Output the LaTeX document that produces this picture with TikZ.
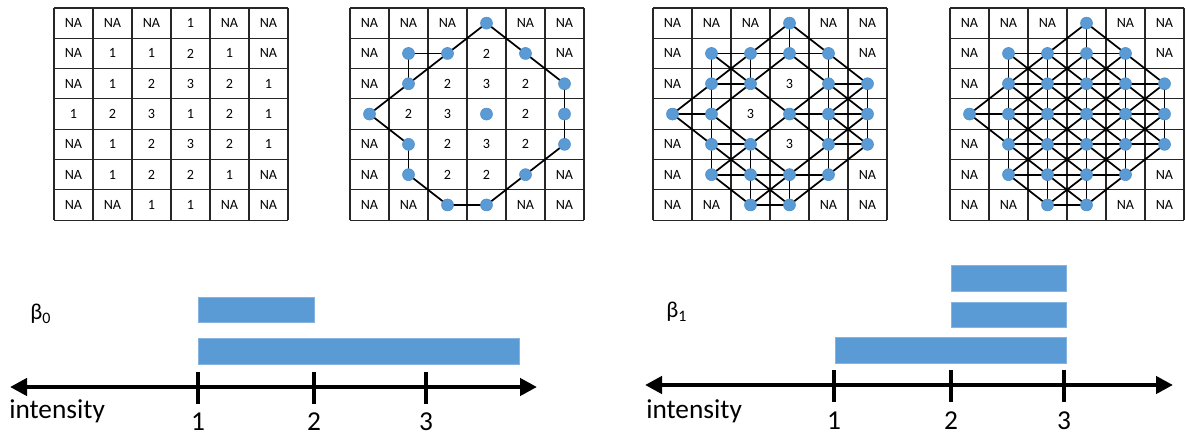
\documentclass[tikz,border=0pt]{standalone}
\usepackage{fontspec}
\setmainfont{Carlito}
\usetikzlibrary{arrows.meta}
\pgfdeclarelayer{gridlayer}
\pgfdeclarelayer{edgelayer}
\pgfsetlayers{gridlayer,edgelayer,main}

\definecolor{officeblue}{HTML}{5B9BD5}
\definecolor{dotrim}{HTML}{4F8CC6}

% pixel values of the 7x6 image, row by row (9 = NA)
\def\cellvals{{9,9,9,1,9,9, 9,1,1,2,1,9, 9,1,2,3,2,1, 1,2,3,1,2,1, 9,1,2,3,2,1, 9,1,2,2,1,9, 9,9,1,1,9,9}}

\tikzset{
  gridline/.style={draw=black!85, line width=0.9pt},
  celltext/.style={inner sep=0pt, font=\fontsize{10.6}{11}\selectfont},
  pixdot/.style={circle, minimum size=9pt, inner sep=0pt, fill=officeblue, draw=dotrim, line width=0.4pt},
  edge/.style={draw=black, line width=1.3pt},
  bar/.style={fill=officeblue, draw=officeblue!75!white, line width=0.5pt},
  axis/.style={draw=black, line width=3.4pt, {Triangle[length=12.75pt,width=12.75pt]}-{Triangle[length=12.75pt,width=12.75pt]}},
  tick/.style={draw=black, line width=3pt},
  axislabel/.style={inner sep=0pt, anchor=base, font=\fontsize{20.5}{22}\selectfont},
  bigtext/.style={inner sep=0pt, anchor=base west, font=\fontsize{20.5}{22}\selectfont},
  betatext/.style={inner sep=0pt, anchor=base west, font=\fontsize{17}{18}\selectfont}
}

\begin{document}
\begin{tikzpicture}[x=0.75pt, y=-0.75pt]
\useasboundingbox (0,0) rectangle (1185,435);

% four copies of the image: sublevel sets at thresholds 0, 1, 2, 3
\foreach \gi/\L/\thr in {1/54/0, 2/350/1, 3/653/2, 4/950/3} {
  \begin{pgfonlayer}{gridlayer}
    \foreach \i in {0,...,6}
      \draw[gridline] ({\L+39*\i},8) -- ({\L+39*\i},220.1);
    \foreach \j in {0,...,7}
      \draw[gridline] (\L,{8+30.3*\j}) -- ({\L+234},{8+30.3*\j});
  \end{pgfonlayer}
  % cells: a dot if the value is in the sublevel set, else its value
  \foreach \rr in {0,...,6} {
    \foreach \cc in {0,...,5} {
      \pgfmathtruncatemacro\cv{\cellvals[\rr*6+\cc]}
      \ifnum\cv>\thr\relax
        \node[celltext] (n\gi-\rr-\cc) at ({\L+19.5+39*\cc},{8+15.15+30.3*\rr}) {\ifnum\cv=9 NA\else\cv\fi};
      \else
        \node[pixdot] (n\gi-\rr-\cc) at ({\L+19.5+39*\cc},{8+15.15+30.3*\rr}) {};
      \fi
    }
  }
  % 8-connectivity edges between dots
  \begin{pgfonlayer}{edgelayer}
  \foreach \rr in {0,...,6} {
    \foreach \cc in {0,...,5} {
      \pgfmathtruncatemacro\cv{\cellvals[\rr*6+\cc]}
      \ifnum\cv>\thr\relax\else
        \foreach \dr/\dc in {0/1,1/-1,1/0,1/1} {
          \pgfmathtruncatemacro\nr{\rr+\dr}
          \pgfmathtruncatemacro\nc{\cc+\dc}
          \ifnum\nr<7 \ifnum\nc>-1 \ifnum\nc<6
            \pgfmathtruncatemacro\nv{\cellvals[\nr*6+\nc]}
            \ifnum\nv>\thr\relax\else
              \draw[edge] (n\gi-\rr-\cc.center) -- (n\gi-\nr-\nc.center);
            \fi
          \fi\fi\fi
        }
      \fi
    }
  }
  \end{pgfonlayer}
}

% barcode for beta_0
\node[betatext] (b0) at (30,319) {β\raisebox{-3pt}{\fontsize{12}{13}\selectfont 0}};
\fill[bar] (198,297) rectangle (314,322);
\fill[bar] (198,338) rectangle (519,364);
\coordinate (la) at (10,387);
\coordinate (lb) at (537,387);
\draw[axis] (la) -- (lb);
\foreach \x/\lab in {198/1, 314/2, 426/3} {
  \draw[tick] (\x,372) -- (\x,404);
  \node[axislabel] (lt\lab) at (\x,430) {\lab};
}
\node[bigtext] (li) at (9,418) {intensity};

% barcode for beta_1
\node[betatext] (b1) at (666,317) {β\raisebox{-3pt}{\fontsize{12}{13}\selectfont 1}};
\fill[bar] (951,265) rectangle (1066,291);
\fill[bar] (951,302) rectangle (1066,327);
\fill[bar] (835,337) rectangle (1066,363);
\coordinate (ra) at (645,385);
\coordinate (rb) at (1173,385);
\draw[axis] (ra) -- (rb);
\foreach \x/\lab in {834/1, 951/2, 1064/3} {
  \draw[tick] (\x,370) -- (\x,402);
  \node[axislabel] (rt\lab) at (\x,429) {\lab};
}
\node[bigtext] (ri) at (646,418) {intensity};
\end{tikzpicture}
\end{document}
